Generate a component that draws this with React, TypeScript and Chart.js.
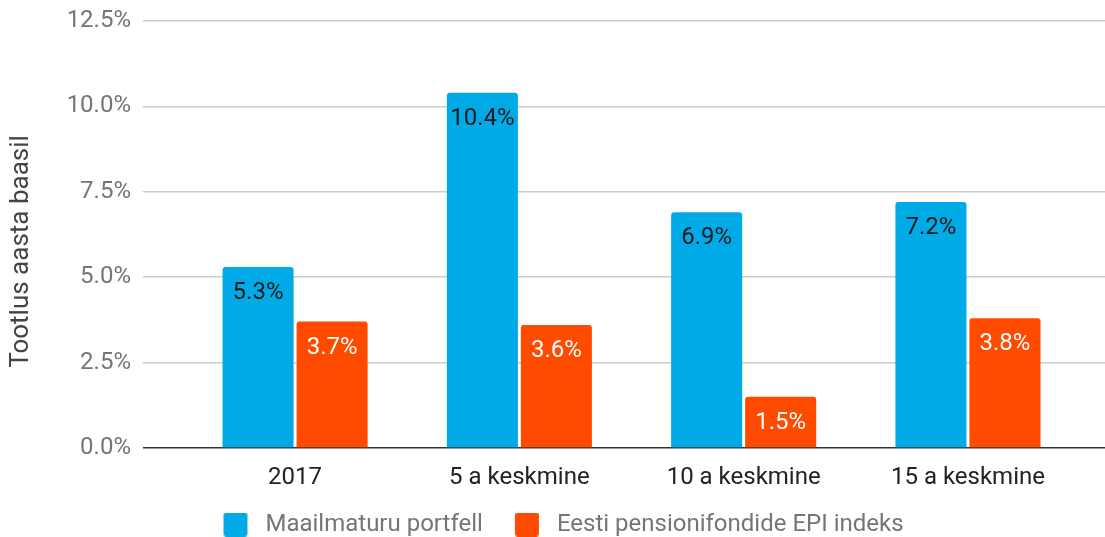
import React, { useEffect, useRef } from 'react';
import { Chart, registerables } from 'chart.js';

Chart.register(...registerables);

const categories = ['2017', '5 a keskmine', '10 a keskmine', '15 a keskmine'];
const worldPortfolio = [5.3, 10.4, 6.9, 7.2];
const epiIndex = [3.7, 3.6, 1.5, 3.8];
const seriesNames = ['Maailmaturu portfell', 'Eesti pensionifondide EPI indeks'];
const yTickValues = [0, 2.5, 5, 7.5, 10, 12.5];
const yTitle = 'Tootlus aasta baasil';

const BLUE = '#00AAE6';
const RED = '#FF4B00';
const FONT = 'Roboto';
const FS = 24;
const ICON_LEAD = 22;
const ICON_BOX = 52;

function makeIcon(color: string): HTMLCanvasElement {
  const c = document.createElement('canvas');
  c.width = ICON_BOX;
  c.height = 24;
  const g = c.getContext('2d')!;
  g.fillStyle = color;
  g.beginPath();
  (g as any).roundRect(ICON_LEAD, 0, 24, 24, 3);
  g.fill();
  return c;
}

const valueLabels = {
  id: 'valueLabels',
  afterDatasetsDraw(chart: any) {
    const ctx = chart.ctx;
    ctx.save();
    ctx.font = `${FS}px ${FONT}`;
    ctx.textAlign = 'center';
    ctx.textBaseline = 'middle';
    chart.data.datasets.forEach((ds: any, di: number) => {
      const meta = chart.getDatasetMeta(di);
      ctx.fillStyle = di === 0 ? '#1a1a1a' : '#ffffff';
      meta.data.forEach((bar: any, i: number) => {
        const v = ds.data[i].y as number;
        ctx.fillText(v.toFixed(1) + '%', bar.x, bar.y + 26);
      });
    });
    ctx.restore();
  },
};

const yTitlePlugin = {
  id: 'yTitlePlugin',
  afterDraw(chart: any) {
    const ctx = chart.ctx;
    const area = chart.chartArea;
    ctx.save();
    ctx.font = `26px ${FONT}`;
    ctx.fillStyle = '#444444';
    ctx.textAlign = 'center';
    ctx.textBaseline = 'middle';
    ctx.translate(21, (area.top + area.bottom) / 2 + 17);
    ctx.rotate(-Math.PI / 2);
    ctx.fillText(yTitle, 0, 0);
    ctx.restore();
  },
};

export default function App() {
  const ref = useRef<HTMLCanvasElement>(null);

  useEffect(() => {
    document.body.style.margin = '0';
    const icons = [makeIcon(BLUE), makeIcon(RED)];
    const chart = new Chart(ref.current!, {
      type: 'bar',
      data: {
        datasets: [
          {
            label: seriesNames[0],
            data: worldPortfolio.map((v, i) => ({ x: i, y: v })),
            backgroundColor: BLUE,
            borderRadius: { topLeft: 3, topRight: 3, bottomLeft: 0, bottomRight: 0 },
            borderSkipped: false,
            categoryPercentage: 0.66,
            barPercentage: 0.96,
          },
          {
            label: seriesNames[1],
            data: epiIndex.map((v, i) => ({ x: i, y: v })),
            backgroundColor: RED,
            borderRadius: { topLeft: 3, topRight: 3, bottomLeft: 0, bottomRight: 0 },
            borderSkipped: false,
            categoryPercentage: 0.66,
            barPercentage: 0.96,
          },
        ],
      } as any,
      options: {
        animation: false,
        responsive: false,
        maintainAspectRatio: false,
        layout: { padding: { left: 0, right: 0, top: 21, bottom: 0 } },
        scales: {
          x: {
            type: 'linear',
            offset: false,
            min: -0.678,
            max: 3.611,
            grid: { display: false, offset: false },
            border: { display: false },
            afterBuildTicks: (s: any) => {
              s.ticks = categories.map((_, i) => ({ value: i }));
            },
            afterFit: (s: any) => {
              s.height = 54.5;
            },
            ticks: {
              autoSkip: false,
              maxRotation: 0,
              padding: 8,
              color: '#222222',
              font: { family: FONT, size: FS },
              callback: (v: any) => categories[v as number] ?? '',
            },
          },
          y: {
            min: 0,
            max: 12.5,
            afterBuildTicks: (s: any) => {
              s.ticks = yTickValues.map((v) => ({ value: v }));
            },
            afterFit: (s: any) => {
              s.width = 143;
              s.paddingTop = 0;
              s.paddingBottom = 0;
            },
            border: { display: false },
            grid: {
              drawTicks: false,
              color: (c: any) => (c.tick && c.tick.value === 0 ? '#333333' : '#cccccc'),
              lineWidth: 1.5,
            },
            ticks: {
              padding: 12,
              color: '#757575',
              font: { family: FONT, size: FS },
              callback: (v: any) => Number(v).toFixed(1) + '%',
            },
          },
        },
        plugins: {
          legend: {
            position: 'bottom',
            maxHeight: 34.5,
            labels: {
              usePointStyle: true,
              pointStyleWidth: ICON_BOX,
              boxHeight: 20,
              padding: 10,
              color: '#757575',
              font: { family: FONT, size: FS },
              generateLabels: (ch: any) => {
                const items = (Chart.defaults.plugins.legend.labels as any).generateLabels(ch);
                items.forEach((it: any, i: number) => {
                  it.pointStyle = icons[i];
                });
                return items;
              },
            },
          },
          tooltip: { enabled: false },
        },
      } as any,
      plugins: [valueLabels, yTitlePlugin],
    });
    return () => chart.destroy();
  }, []);

  return (
    <div style={{ position: 'absolute', left: 0, top: 0, width: 1105, height: 537 }}>
      <canvas ref={ref} width={1105} height={537} style={{ width: 1105, height: 537, display: 'block' }} />
    </div>
  );
}
